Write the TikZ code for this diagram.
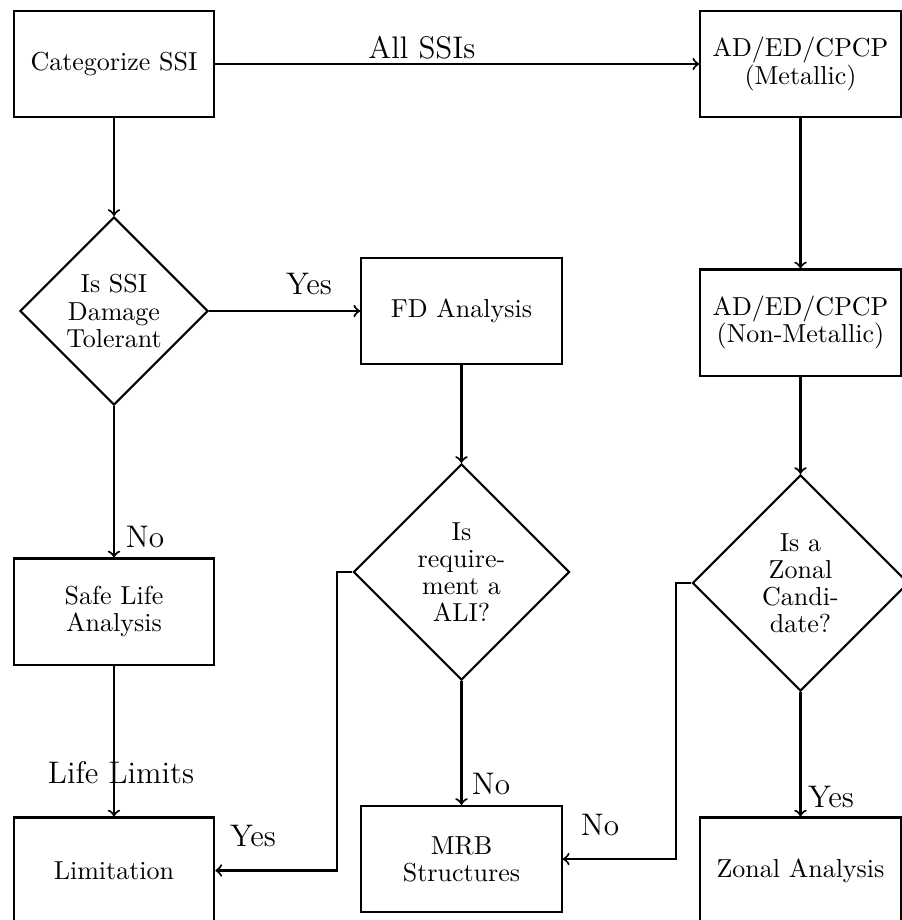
\documentclass[tikz,border=0pt]{standalone}
\usetikzlibrary{shapes.geometric}
\begin{document}
\begin{tikzpicture}[x=0.3846pt,y=-0.3846pt,
  box/.style={draw, thick, rectangle, minimum width=77.1pt, minimum height=40.8pt,
    inner sep=2pt, align=center, font={\fontsize{10}{10.4}\selectfont}},
  decision/.style={draw, thick, diamond, inner sep=0pt},
  dtext/.style={align=center, inner sep=0pt, font={\fontsize{10}{10.4}\selectfont}},
  lbl/.style={inner sep=0pt, font=\large},
  flow/.style={draw, thick, ->}]
\useasboundingbox (0,0) rectangle (902,920);
\clip (0,0) rectangle (902,920);

% process boxes
\node[box] (cat)    at (114,64)    {Categorize SSI};
\node[box] (met)    at (800.5,64)  {AD/ED/CPCP\\(Metallic)};
\node[box] (nonmet) at (800.5,322.5) {AD/ED/CPCP\\(Non-Metallic)};
\node[box] (fd)     at (461.5,311) {FD Analysis};
\node[box] (safe)   at (114,611.5) {Safe Life\\Analysis};
\node[box] (lim)    at (114,870.5) {Limitation};
\node[box] (mrb)    at (461.5,859) {MRB\\Structures};
\node[box] (zonal)  at (800.5,870.5) {Zonal Analysis};

% decisions
\node[decision, minimum width=72.3pt, minimum height=72.3pt] (d1) at (114,311) {};
\node[dtext] (t1) at (d1.center) {Is SSI\\Damage\\Tolerant};
\node[decision, minimum width=83.1pt, minimum height=83.1pt] (d2) at (461.5,572) {};
\node[dtext] (t2) at (d2.center) {Is\\require-\\ment a\\ALI?};
\node[decision, minimum width=83.1pt, minimum height=83.1pt] (d3) at (800.5,583) {};
\node[dtext] (t3) at (d3.center) {Is a\\Zonal\\Candi-\\date?};

% bend points of the side routes
\coordinate (k2) at (337,572);
\coordinate (k3) at (676,583);

% connectors
\path[flow] (cat.east) -- (met.west);
\path[flow] (cat.south) -- (d1.north);
\path[flow] (met.south) -- (nonmet.north);
\path[flow] (d1.east) -- (fd.west);
\path[flow] (d1.south) -- (safe.north);
\path[flow] (fd.south) -- (d2.north);
\path[flow] (safe.south) -- (lim.north);
\path[flow] (d2.west) -- (k2) |- (lim.east);
\path[flow] (d2.south) -- (mrb.north);
\path[flow] (nonmet.south) -- (d3.north);
\path[flow] (d3.west) -- (k3) |- (mrb.east);
\path[flow] (d3.south) -- (zonal.north);

% connector labels
\node[lbl] (lAll)  at (422,48)  {All SSIs};
\node[lbl] (lYes1) at (309,284) {Yes};
\node[lbl] (lNo1)  at (145,537) {No};
\node[lbl] (lLife) at (121,773) {Life Limits};
\node[lbl] (lYes2) at (253,836) {Yes};
\node[lbl] (lNo2)  at (491,784) {No};
\node[lbl] (lNo3)  at (600,825) {No};
\node[lbl] (lYes3) at (831,797) {Yes};
\end{tikzpicture}
\end{document}
